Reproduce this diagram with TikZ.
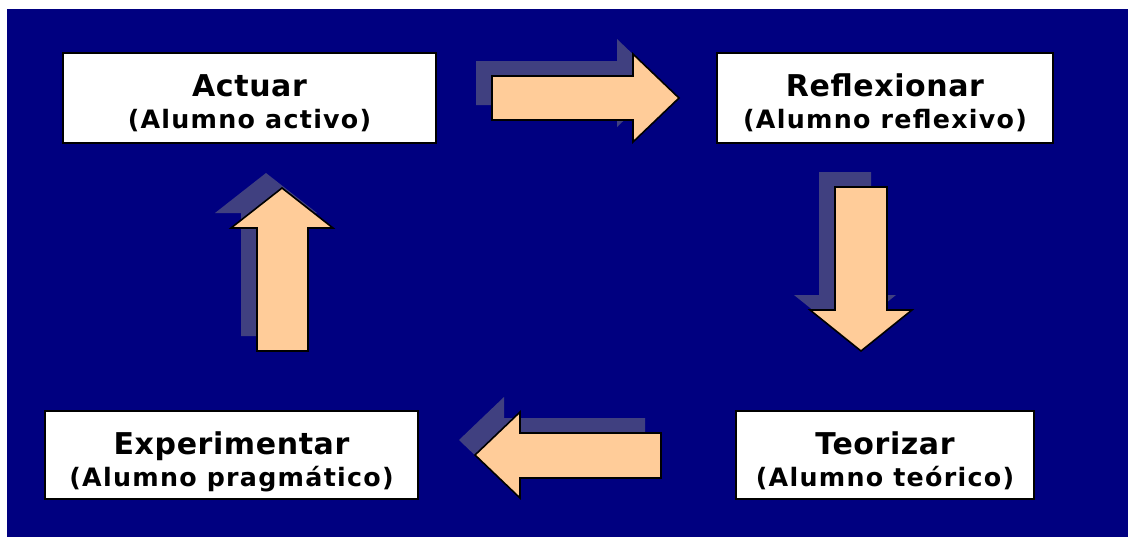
\documentclass[tikz,border=0pt]{standalone}
\usepackage{fontspec}
\setmainfont{DejaVu Sans}
\usetikzlibrary{positioning}

\definecolor{fondo}{RGB}{0,0,128}
\definecolor{flecha}{RGB}{255,204,153}
\definecolor{sombra}{RGB}{64,64,128}

\tikzset{
  caja/.style={draw=black, line width=1.5pt, fill=white, inner sep=0pt},
  titulo/.style={anchor=base, inner sep=0pt, font=\fontsize{22.5}{27}\bfseries\addfontfeature{LetterSpace=2}},
  subtitulo/.style={anchor=base, inner sep=0pt, font=\fontsize{19}{23}\bfseries\addfontfeature{LetterSpace=5}},
  bloque/.style={draw=black, line width=1.2pt, fill=flecha, line join=miter},
  sombrabloque/.style={fill=sombra, shift={(-16,-15)}}
}

\begin{document}
\begin{tikzpicture}[x=0.75pt,y=-0.75pt]
\useasboundingbox (0,0) rectangle (1128,537);
\fill[fondo] (7,9) rectangle (1128,537);

% cajas
\node[caja, minimum width=279.75pt, minimum height=67.5pt] (actuar) at (249.5,98) {};
\node[caja, minimum width=252pt, minimum height=67.5pt] (reflexionar) at (885,98) {};
\node[caja, minimum width=223.5pt, minimum height=66pt] (teorizar) at (885,455) {};
\node[caja, minimum width=279.75pt, minimum height=66pt] (experimentar) at (231.5,455) {};

\node[titulo] (actuar-t) at ([yshift=-33pt]actuar.north) {Actuar};
\node[subtitulo] (actuar-s) at ([yshift=-57pt]actuar.north) {(Alumno activo)};
\node[titulo] (reflexionar-t) at ([yshift=-33pt]reflexionar.north) {Reflexionar};
\node[subtitulo] (reflexionar-s) at ([yshift=-57pt]reflexionar.north) {(Alumno reflexivo)};
\node[titulo] (teorizar-t) at ([yshift=-33pt]teorizar.north) {Teorizar};
\node[subtitulo] (teorizar-s) at ([yshift=-57pt]teorizar.north) {(Alumno teórico)};
\node[titulo] (experimentar-t) at ([yshift=-33pt]experimentar.north) {Experimentar};
\node[subtitulo] (experimentar-s) at ([yshift=-57pt]experimentar.north) {(Alumno pragmático)};

% sombras
\fill[sombrabloque] (492,76) -- (633,76) -- (633,54) -- (679,98) -- (633,142) -- (633,120) -- (492,120) -- cycle;
\fill[sombrabloque] (835,187) -- (887,187) -- (887,310) -- (912,310) -- (861,351) -- (810,310) -- (835,310) -- cycle;
\fill[sombrabloque] (661,433) -- (520,433) -- (520,412) -- (475,455) -- (520,498) -- (520,478) -- (661,478) -- cycle;
\fill[sombrabloque] (257,351) -- (257,228) -- (231,228) -- (282,188) -- (333,228) -- (308,228) -- (308,351) -- cycle;

% flechas
\draw[bloque] (492,76) -- (633,76) -- (633,54) -- (679,98) -- (633,142) -- (633,120) -- (492,120) -- cycle;
\draw[bloque] (835,187) -- (887,187) -- (887,310) -- (912,310) -- (861,351) -- (810,310) -- (835,310) -- cycle;
\draw[bloque] (661,433) -- (520,433) -- (520,412) -- (475,455) -- (520,498) -- (520,478) -- (661,478) -- cycle;
\draw[bloque] (257,351) -- (257,228) -- (231,228) -- (282,188) -- (333,228) -- (308,228) -- (308,351) -- cycle;
\end{tikzpicture}
\end{document}
